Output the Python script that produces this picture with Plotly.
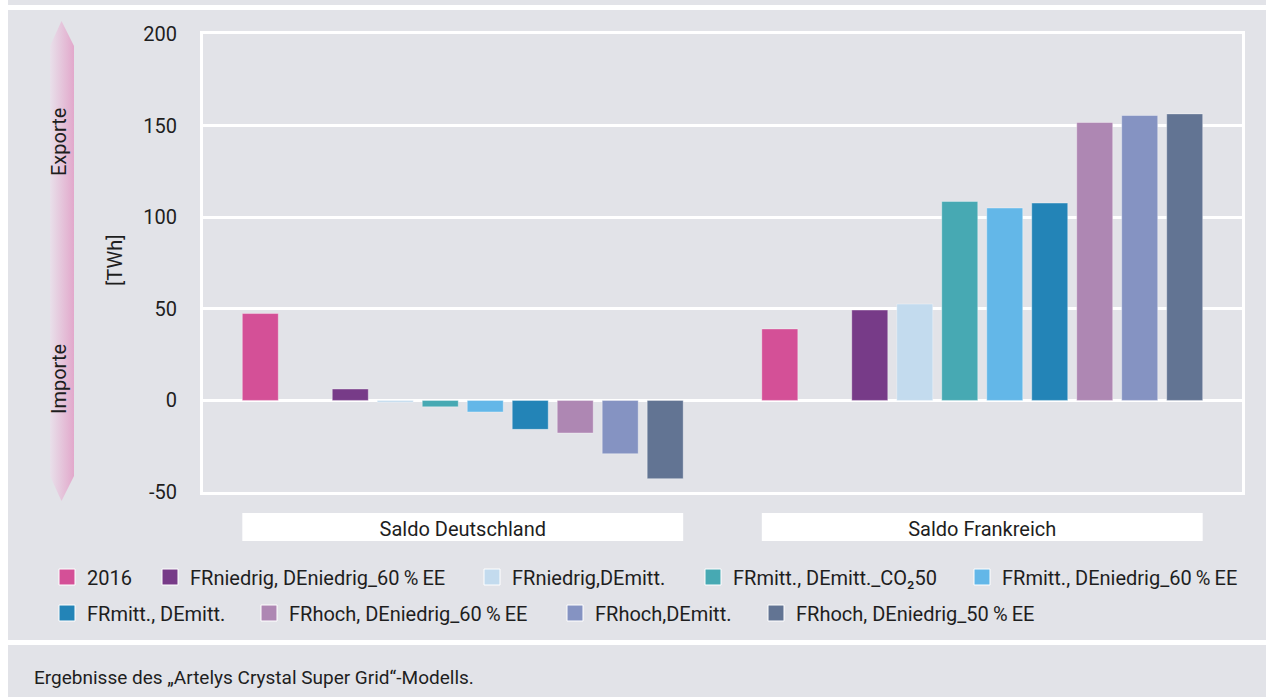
import base64
import plotly.graph_objects as go

# ---------------- data ----------------
categories = ["Saldo Deutschland", "Saldo Frankreich"]
series_names = [
    "2016",
    "FRniedrig, DEniedrig_60\u2009%\u2009EE",
    "FRniedrig,DEmitt.",
    "FRmitt., DEmitt._CO\u208250",
    "FRmitt., DEniedrig_60\u2009%\u2009EE",
    "FRmitt., DEmitt.",
    "FRhoch, DEniedrig_60\u2009%\u2009EE",
    "FRhoch,DEmitt.",
    "FRhoch, DEniedrig_50\u2009%\u2009EE",
]
series_colors = [
    "#d45097", "#773b88", "#c3dbee", "#47a9b3", "#63b7e8",
    "#2384b7", "#ae87b3", "#8593c2", "#627493",
]
values_de = [47.4, 6.2, -1.0, -3.5, -6.3, -15.8, -17.8, -29.1, -42.7]
values_fr = [39.0, 49.3, 52.6, 108.6, 105.0, 107.7, 151.7, 155.5, 156.4]
y_ticks = [-50, 0, 50, 100, 150, 200]
footer_text = "Ergebnisse des \u201eArtelys Crystal Super Grid\u201c-Modells."

# ---------------- layout geometry ----------------
W, H = 1266, 697
L, R, T, B = 203, 1242, 34, 492
BG = "#e2e3e8"
TXT = "#1e1e1e"
FONT = "Roboto"
BARGAP = 0.134
BARGROUPGAP = 0.2
N_SLOTS = len(series_names) + 1  # one empty slot after 2016

# legend entry placement (left edge of each key, px) and rows (px)
legend_left_px = [52, 155, 477, 698, 967, 52, 254, 560, 761]
legend_row_px = [577, 577, 577, 577, 577, 613, 613, 613, 613]


def px(x):
    return (x - L) / (R - L)


def py(y):
    return (B - y) / (B - T)


fig = go.Figure()

for i, (name, color) in enumerate(zip(series_names, series_colors)):
    legend_key = "legend" if i == 0 else f"legend{i + 1}"
    fig.add_trace(go.Bar(
        x=categories,
        y=[values_de[i], values_fr[i]],
        name=name,
        legendgroup=name,
        showlegend=False,
        marker=dict(color=color, line=dict(color="rgba(255,255,255,0.35)", width=1)),
        hoverinfo="name+y",
    ))
    # legend key (larger square than the default bar key)
    fig.add_trace(go.Scatter(
        x=[None], y=[None], mode="markers", name=name, legendgroup=name,
        legend=legend_key, showlegend=True, hoverinfo="skip",
        marker=dict(symbol="square", size=16, color=color,
                    line=dict(color="white", width=1)),
    ))
    if i == 0:
        # empty slot following the 2016 bar
        fig.add_trace(go.Bar(x=categories, y=[None, None], showlegend=False,
                             hoverinfo="skip", marker=dict(color="rgba(0,0,0,0)")))

# ---------------- decorations ----------------
shapes = [
    dict(type="rect", xref="paper", yref="paper", x0=px(0), x1=px(8), y0=py(H), y1=py(0),
         fillcolor="white", line=dict(width=0), layer="below"),
    dict(type="rect", xref="paper", yref="paper", x0=px(8), x1=px(W), y0=py(10), y1=py(5),
         fillcolor="white", line=dict(width=0), layer="below"),
    dict(type="rect", xref="paper", yref="paper", x0=px(8), x1=px(W), y0=py(645), y1=py(640),
         fillcolor="white", line=dict(width=0), layer="below"),
]
# category label boxes span the outer bar edges of each group
group_w = 1 - BARGAP
half = group_w / 2 - (group_w / N_SLOTS) * BARGROUPGAP / 2
for i, _ in enumerate(categories):
    shapes.append(dict(type="rect", xref="x", yref="paper", x0=i - half, x1=i + half,
                       y0=py(541), y1=py(513), fillcolor="white",
                       line=dict(width=0), layer="below"))

arrow_svg = (
    '<svg xmlns="http://www.w3.org/2000/svg" width="24" height="480" viewBox="0 0 24 480" '
    'preserveAspectRatio="none">'
    '<defs><linearGradient id="g" x1="0" y1="0" x2="1" y2="0">'
    '<stop offset="0" stop-color="#e8e0ea"/><stop offset="1" stop-color="#e2a8cb"/>'
    '</linearGradient></defs>'
    '<polygon points="11.5,0 24,25 24,455 11.5,480 0,455 0,25" fill="url(#g)"/></svg>'
)
arrow_src = "data:image/svg+xml;base64," + base64.b64encode(arrow_svg.encode()).decode()

images = [dict(source=arrow_src, xref="paper", yref="paper", x=px(50), y=py(21),
               sizex=px(74) - px(50), sizey=py(21) - py(501), xanchor="left", yanchor="top",
               sizing="stretch", layer="above")]


def vlabel(text, x, y, size=20):
    return dict(text=text, x=px(x), y=py(y), xref="paper", yref="paper", textangle=-90,
                xanchor="center", yanchor="middle", showarrow=False,
                font=dict(size=size, color=TXT, family=FONT))


annotations = [
    vlabel("[TWh]", 115, 261),
    vlabel("Exporte", 59, 142),
    vlabel("Importe", 59, 379),
    dict(text=footer_text, x=px(32), y=py(677), xref="paper", yref="paper",
         xanchor="left", yanchor="middle", showarrow=False,
         font=dict(size=19, color=TXT, family=FONT)),
]

legends = {}
for i in range(len(series_names)):
    key = "legend" if i == 0 else f"legend{i + 1}"
    legends[key] = dict(orientation="h", xref="paper", yref="paper", xanchor="left",
                        yanchor="middle", bgcolor="rgba(0,0,0,0)", borderwidth=0,
                        itemsizing="trace",
                        font=dict(size=20, color=TXT, family=FONT),
                        x=px(legend_left_px[i] - 5), y=py(legend_row_px[i]))

fig.update_layout(
    width=W, height=H,
    margin=dict(l=L, r=W - R, t=T, b=H - B, pad=0),
    paper_bgcolor=BG, plot_bgcolor=BG,
    font=dict(family=FONT, color=TXT, size=18),
    barmode="group", bargap=BARGAP, bargroupgap=BARGROUPGAP,
    showlegend=True,
    shapes=shapes, images=images, annotations=annotations,
    xaxis=dict(showgrid=False, showline=True, mirror=True, linecolor="white", linewidth=3,
               ticks="", ticklabelstandoff=17, tickfont=dict(size=20, color=TXT, family=FONT),
               fixedrange=True),
    yaxis=dict(range=[-50, 200], tickvals=y_ticks, ticktext=[str(v) for v in y_ticks],
               showgrid=True, gridcolor="white",
               gridwidth=3, zeroline=True, zerolinecolor="white", zerolinewidth=3,
               showline=True, mirror=True, linecolor="white", linewidth=3,
               ticks="", ticklabelstandoff=19, tickfont=dict(size=20, color=TXT, family=FONT),
               fixedrange=True),
    **legends,
)

fig.write_html("out.html", include_plotlyjs=True, full_html=True,
               config=dict(displayModeBar=False))
